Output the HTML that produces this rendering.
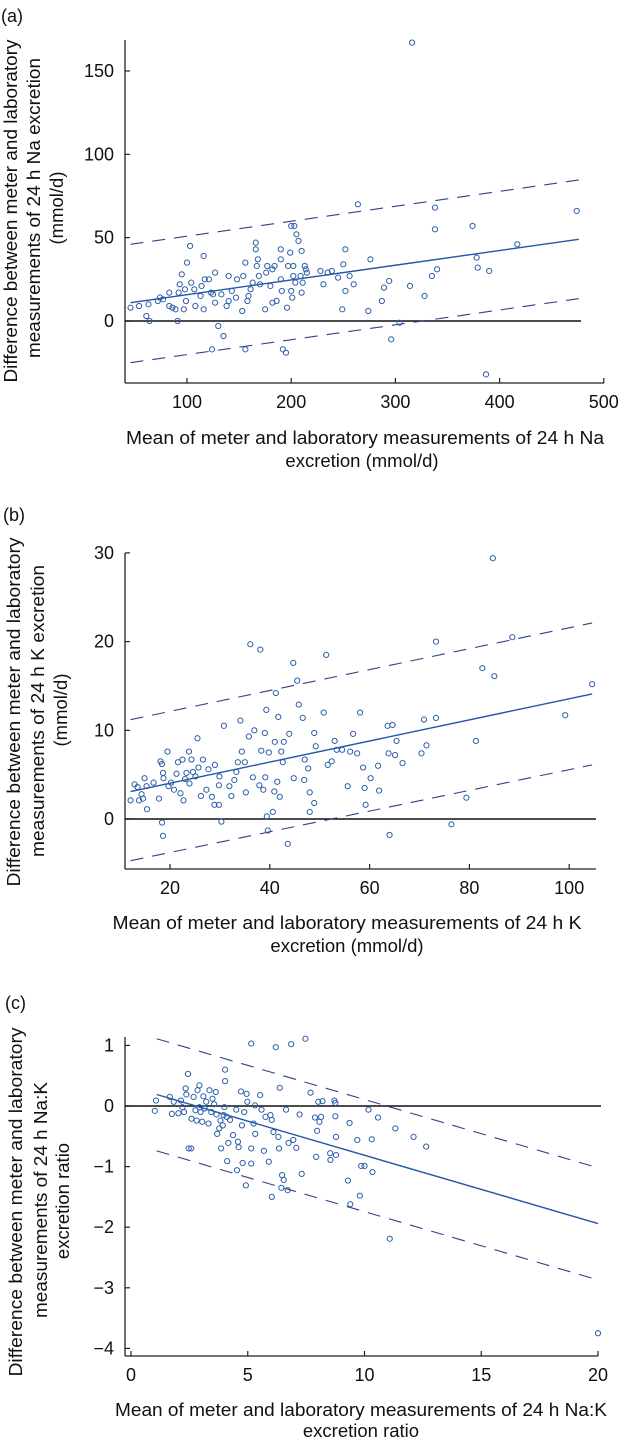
<!DOCTYPE html>
<html><head><meta charset="utf-8"><style>
html,body{margin:0;padding:0;background:#fff;}
svg{display:block;font-family:"Liberation Sans",Arial,sans-serif;}
</style></head><body>
<svg id="fig" width="620" height="1442" viewBox="0 0 620 1442" xmlns="http://www.w3.org/2000/svg">
<g font-size="18" fill="#111">
<text x="1" y="22">(a)</text>
<text x="3" y="521">(b)</text>
<text x="5" y="1009">(c)</text>
</g>
<g font-size="18.5" fill="#111" text-anchor="middle">
<g>
<text transform="translate(17,211) rotate(-90)" textLength="343" lengthAdjust="spacingAndGlyphs">Difference between meter and laboratory</text>
<text transform="translate(40,208) rotate(-90)" textLength="300" lengthAdjust="spacingAndGlyphs">measurements of 24 h Na excretion</text>
<text transform="translate(63,208) rotate(-90)">(mmol/d)</text>
</g>
<g>
<text x="365" y="444" textLength="478" lengthAdjust="spacingAndGlyphs">Mean of meter and laboratory measurements of 24 h Na</text>
<text x="362" y="467">excretion (mmol/d)</text>
</g>
<g>
<text transform="translate(20,712) rotate(-90)" textLength="349" lengthAdjust="spacingAndGlyphs">Difference between meter and laboratory</text>
<text transform="translate(44,711) rotate(-90)" textLength="292" lengthAdjust="spacingAndGlyphs">measurements of 24 h K excretion</text>
<text transform="translate(67,710) rotate(-90)">(mmol/d)</text>
</g>
<g>
<text x="347" y="929" textLength="469" lengthAdjust="spacingAndGlyphs">Mean of meter and laboratory measurements of 24 h K</text>
<text x="347" y="952">excretion (mmol/d)</text>
</g>
<g>
<text transform="translate(22,1202) rotate(-90)" textLength="349" lengthAdjust="spacingAndGlyphs">Difference between meter and laboratory</text>
<text transform="translate(47,1200) rotate(-90)" textLength="236" lengthAdjust="spacingAndGlyphs">measurements of 24 h Na:K</text>
<text transform="translate(69,1201) rotate(-90)">excretion ratio</text>
</g>
<g>
<text x="361" y="1416" textLength="492" lengthAdjust="spacingAndGlyphs">Mean of meter and laboratory measurements of 24 h Na:K</text>
<text x="361" y="1437">excretion ratio</text>
</g>
</g>
<g id="plots"></g>
</svg>
<script>
// Panel (a) Na
const naX=[45.8,54,61,63,64,72,74,77,83,83,86,89,91,92,93,95,97,98,99,100,103,104,107,108,113,114,116,116,117,121,123,124,125,127,127,130,133,135,138,140,140,143,147,148,153,154,156,156,158,159,161,163,166,166,167,168,169,170,175,176,177,180,182,182,184,186,190,190,190,191,192,195,196,197,199,200,200,201,202,202,203,204,205,207,209,210,210,211,213,214,215,228,231,235,239,245,249,250,252,252,256,260,264,274,276,287,289,294,296,304,314,316,328,335,338,338,340,374,378,379,387,390,417,474];
const naY=[8,9,3,10,0,12,14,13,17,9,8,7,0,17,22,28,7,19,12,35,45,23,19,9,15,21,39,7,25,25,17,-17,16,29,11,-3,16,-9,9,27,12,18,14,25,6,27,35,-17,12,15,19,23,47,43,33,37,27,22,7,29,33,21,31,11,33,12,25,43,37,18,-17,-19,8,33,41,18,57,14,27,33,57,23,52,48,27,42,17,23,33,31,29,30,22,29,30,26,7,34,43,18,27,22,70,6,37,12,20,24,-11,-1,21,167,15,27,55,68,31,57,38,32,-32,30,46,66];
const naLineX=[45.8,476];
const naMeanY=[11,49];
const naUpperY=[46,84.6];
const naLowerY=[-25,13.4];
const naXTicks=[100,200,300,400,500];
const naYTicks=[0,50,100,150];

// Panel (b) K
const kX=[12.1,12.9,13.5,13.8,14.3,14.6,14.9,15.3,15.4,16.7,17.8,18.1,18.4,18.4,18.6,18.6,18.7,19.5,19.7,20.2,20.8,21.3,21.6,22.1,22.5,22.7,23.0,23.3,23.8,23.9,24.3,24.6,25.1,25.5,25.7,26.2,26.6,27.3,27.7,28.4,29.0,28.9,29.8,29.8,29.9,30.3,30.8,31.9,32.3,32.9,33.3,33.6,34.1,34.4,35.0,35.2,35.8,36.1,36.6,36.9,37.9,38.1,38.3,38.7,39.0,39.1,39.3,39.4,39.6,39.8,40.6,40.9,41.0,41.2,41.5,41.7,42.0,42.3,42.6,42.8,43.6,43.9,44.7,44.8,45.5,45.8,46.6,46.9,47.0,47.7,48.0,48.0,48.9,48.9,49.2,50.8,51.3,51.6,52.4,53.0,53.4,54.5,55.6,56.1,56.7,57.5,58.1,58.7,59.0,59.2,60.2,61.7,61.9,63.6,63.8,64.0,64.6,65.1,65.4,66.6,70.4,70.9,71.4,73.3,73.3,76.4,79.4,81.3,82.6,84.7,85.0,88.6,99.2,104.6];
const kY=[2.1,3.9,3.6,2.1,2.8,2.3,4.6,3.7,1.1,4.1,2.3,6.5,6.2,-0.4,-1.9,5.2,4.6,7.6,3.7,4.1,3.3,5.1,6.4,2.9,6.7,2.1,4.5,5.2,7.6,4.0,6.7,5.3,4.8,9.1,5.8,2.6,6.7,3.3,5.6,2.5,6.1,1.6,1.6,3.8,4.8,-0.3,10.5,3.7,2.6,4.4,5.3,6.4,11.1,7.6,6.4,3.0,9.3,19.7,4.7,10.0,3.8,19.1,7.7,3.3,9.7,4.7,12.3,0.3,-1.3,7.5,0.8,3.1,8.7,14.2,4.2,11.5,2.5,7.6,6.4,8.7,-2.8,9.6,17.6,4.6,15.6,12.9,11.4,4.4,6.7,5.7,3.0,0.8,9.7,1.8,8.2,12.0,18.5,6.1,6.5,8.8,7.8,7.8,3.7,7.6,9.6,7.4,12.0,5.8,3.5,1.6,4.6,6.0,3.2,10.5,7.4,-1.8,10.6,7.2,8.8,6.3,7.4,11.2,8.3,20.0,11.4,-0.6,2.4,8.8,17.0,29.4,16.1,20.5,11.7,15.2];
const kLineX=[12.1,104.6];
const kMeanY=[3.1,14.1];
const kUpperY=[11.2,22.1];
const kLowerY=[-4.7,6.1];
const kXTicks=[20,40,60,80,100];
const kYTicks=[0,10,20,30];

// Panel (c) Na:K ratio
const rX=[1.02,1.07,1.66,1.75,1.83,2.03,2.14,2.20,2.27,2.34,2.37,2.44,2.47,2.58,2.59,2.68,2.76,2.81,2.85,2.93,2.93,2.98,3.05,3.10,3.15,3.22,3.32,3.36,3.44,3.49,3.56,3.63,3.66,3.69,3.78,3.83,3.86,3.93,3.97,4.00,4.03,4.03,4.10,4.12,4.17,4.24,4.37,4.51,4.54,4.58,4.61,4.71,4.75,4.78,4.85,4.92,4.95,4.98,5.15,5.15,5.15,5.25,5.31,5.32,5.53,5.59,5.69,5.76,5.90,5.97,6.03,6.03,6.10,6.20,6.31,6.34,6.37,6.44,6.47,6.54,6.64,6.71,6.75,6.86,6.95,7.08,7.22,7.31,7.47,7.69,7.88,7.93,7.97,8.02,8.07,8.14,8.20,8.53,8.54,8.71,8.75,8.75,8.78,8.78,9.29,9.36,9.39,9.69,9.80,9.86,10.00,10.17,10.31,10.34,10.58,11.08,11.32,12.10,12.64,20.0];
const rY=[-0.08,0.09,0.15,-0.13,0.07,-0.12,0.09,-0.02,-0.10,0.29,0.19,0.53,-0.70,-0.70,-0.21,0.15,-0.07,-0.24,0.26,0.34,-0.02,-0.10,-0.26,0.16,-0.04,0.07,-0.29,0.26,-0.10,0.12,0.03,0.23,-0.14,-0.46,-0.37,-0.24,-0.70,-0.32,-0.15,-0.02,0.60,0.41,-0.18,-0.91,-0.61,-0.23,-0.48,-0.06,-1.06,-0.59,-0.68,0.24,-0.32,-0.94,-0.10,-1.31,0.20,0.07,1.03,-0.70,-0.95,-0.29,0.01,-0.46,0.18,-0.06,-0.74,-0.18,-0.92,-0.15,-1.50,-0.23,-0.43,0.97,-0.51,-0.70,0.30,-1.35,-1.14,-1.22,-0.06,-1.39,-0.61,1.02,-0.56,-0.69,-0.14,-1.12,1.11,0.22,-0.19,-0.84,-0.41,0.07,-0.26,-0.18,0.08,-0.78,-0.89,0.09,0.05,-0.17,-0.51,-0.81,-1.23,-0.28,-1.62,-0.56,-1.48,-0.99,-0.99,-0.06,-0.55,-1.09,-0.19,-2.19,-0.37,-0.51,-0.67,-3.75];
const rLineX=[1.1,20];
const rMeanY=[0.19,-1.94];
const rUpperY=[1.11,-1.02];
const rLowerY=[-0.74,-2.87];
const rXTicks=[0,5,10,15,20];
const rYTicks=[1,0,-1,-2,-3,-4];

const NS="http://www.w3.org/2000/svg";
const root=document.getElementById('plots');
function mk(tag,attrs,parent){const e=document.createElementNS(NS,tag);for(const k in attrs)e.setAttribute(k,attrs[k]);parent.appendChild(e);return e;}
function fmt(v){return v<0?'\u2212'+Math.abs(v):String(v);}

function panel(id,cfg,xs,ys,lx,meanY,upY,loY,xt,yt){
  const g=mk('g',{},root);
  
  
  const X=cfg.x, Y=cfg.y;
  const ya=mk('line',{x1:cfg.left,y1:cfg.top,x2:cfg.left,y2:cfg.bottom,stroke:'#222','stroke-width':1.3},g);
  
  
  const xa=mk('line',{x1:cfg.left,y1:cfg.bottom,x2:cfg.right,y2:cfg.bottom,stroke:'#222','stroke-width':1.3},g);
  
  
  xt.forEach(v=>{
    const px=X(v);
    const t=mk('line',{x1:px,y1:cfg.bottom,x2:px,y2:cfg.bottom-5,stroke:'#222','stroke-width':1.2},g);
    
    
    const l=mk('text',{x:px,y:cfg.xlab,'text-anchor':'middle','font-size':18,fill:'#111'},g);
    l.textContent=fmt(v);
    
    
  });
  yt.forEach(v=>{
    const py=Y(v);
    const t=mk('line',{x1:cfg.left,y1:py,x2:cfg.left+5,y2:py,stroke:'#222','stroke-width':1.2},g);
    
    
    const l=mk('text',{x:114,y:py+6,'text-anchor':'end','font-size':18,fill:'#111'},g);
    l.textContent=fmt(v);
    
    
  });
  const z=mk('line',{x1:cfg.left,y1:Y(0),x2:cfg.zeroEnd,y2:Y(0),stroke:'#111','stroke-width':1.4},g);
  
  
  const up=mk('line',{x1:X(lx[0]),y1:Y(upY[0]),x2:X(lx[1]),y2:Y(upY[1]),stroke:'#3b3b8c','stroke-width':1.1,'stroke-dasharray':'13,9'},g);
  
  
  const lo=mk('line',{x1:X(lx[0]),y1:Y(loY[0]),x2:X(lx[1]),y2:Y(loY[1]),stroke:'#3b3b8c','stroke-width':1.1,'stroke-dasharray':'13,9'},g);
  
  
  const m=mk('line',{x1:X(lx[0]),y1:Y(meanY[0]),x2:X(lx[1]),y2:Y(meanY[1]),stroke:'#2456a4','stroke-width':1.4},g);
  
  
  for(let i=0;i<xs.length;i++){
    const c=mk('circle',{cx:X(xs[i]),cy:Y(ys[i]),r:2.6,fill:'none',stroke:'#2d5fa8','stroke-width':1},g);
    
    
  }
}

panel('panel-a',{x:v=>187+(v-100)*1.042,y:v=>321-v*1.667,left:125,right:604,top:40,bottom:383,zeroEnd:581,xlab:408},
  naX,naY,naLineX,naMeanY,naUpperY,naLowerY,naXTicks,naYTicks);
panel('panel-b',{x:v=>170+(v-20)*4.99,y:v=>819-v*8.87,left:125,right:596,top:553,bottom:869,zeroEnd:596,xlab:894},
  kX,kY,kLineX,kMeanY,kUpperY,kLowerY,kXTicks,kYTicks);
panel('panel-c',{x:v=>131+v*23.35,y:v=>1106-v*60.6,left:125,right:598,top:1037,bottom:1356,zeroEnd:601,xlab:1381},
  rX,rY,rLineX,rMeanY,rUpperY,rLowerY,rXTicks,rYTicks);
</script>
</body></html>
